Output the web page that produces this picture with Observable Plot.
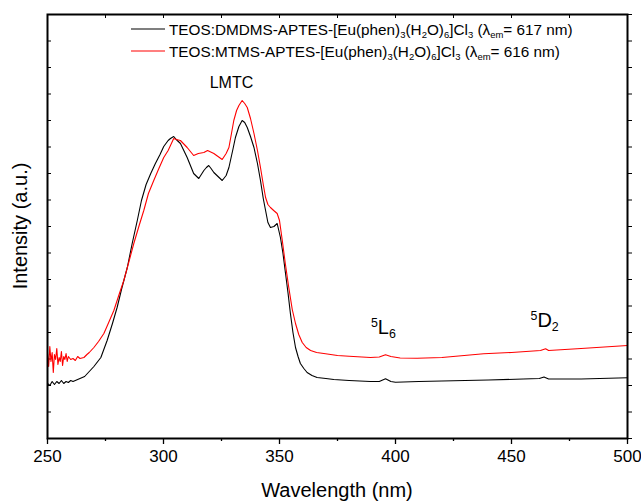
<!DOCTYPE html>
<html>
<head>
<meta charset="utf-8">
<script src="https://cdn.jsdelivr.net/npm/d3@7"></script>
<script src="https://cdn.jsdelivr.net/npm/@observablehq/plot@0.6"></script>
<style>
  html, body { margin: 0; padding: 0; background: #fff; }
  #chart { width: 641px; height: 501px; }
</style>
</head>
<body>
<div id="chart"></div>
<script>
// ---- data ----
const xTickValues = [250, 300, 350, 400, 450, 500];
const xMinorTicks = [275, 325, 375, 425, 475];
const xLabel = "Wavelength (nm)";
const yLabel = "Intensity (a.u.)";

const wlBlack = [250, 251, 252, 253, 254, 255, 256, 257, 258, 259, 260, 261, 262, 263, 264, 266, 268, 270, 273, 275.7, 278, 280, 282, 284.4, 286.5, 288.7, 290.5, 292.5, 294.5, 296.5, 298.5, 300.1, 302, 303, 304.4, 305.5, 307.3, 310.2, 313, 315.2, 317.4, 318.5, 319.5, 320.5, 321.7, 323.5, 325.3, 327, 328.2, 330, 331, 332.5, 333.9, 335, 336.1, 337.5, 339, 340.5, 341.8, 343, 344, 345, 346.1, 347.6, 349, 350.4, 351.5, 352.6, 353.7, 354.7, 355.8, 356.9, 358, 359, 360.5, 361.9, 364, 366.2, 370, 373.4, 380, 389.2, 393, 395.7, 398, 400, 410, 420, 440, 455, 462, 464, 466, 480, 500];
const intBlack = [55, 53, 57, 54, 57, 55, 58, 55, 57, 56, 58, 57, 58, 59, 60, 62, 67, 72, 81, 98, 115, 131, 150, 171, 195, 218, 238, 254, 265, 275, 284, 292, 298, 300, 302, 299, 295, 281, 265, 260, 268, 271, 273, 270, 266, 262, 258, 263, 271, 290, 301, 312, 318, 316, 311, 302, 291, 275, 258, 240, 228, 216, 211, 212, 215, 201, 185, 165, 145, 125, 106, 91, 82, 75, 70, 66, 63, 61, 60, 59, 58, 57, 57, 59.7, 57, 56.3, 57, 57.5, 58.5, 59.5, 60, 61.5, 59.5, 59.5, 60.7];

const wlRed = [250, 250.5, 251, 251.5, 252, 252.5, 253, 253.5, 254, 254.5, 255, 255.5, 256, 256.5, 257, 257.5, 258, 258.5, 259, 260, 261, 262, 263, 264, 265.7, 267, 268, 270, 272, 274.3, 276, 278.6, 281, 282.9, 285, 287.2, 289.5, 291.5, 293.5, 295.8, 298, 300.1, 302, 303, 304.4, 305.5, 307.3, 310.2, 313, 315, 317.4, 319, 321.7, 323.5, 325.3, 327, 328.2, 329.3, 330.3, 331.5, 332.5, 333.9, 335, 336.1, 337.5, 339, 340.5, 341.8, 343, 344, 345, 346.1, 347.5, 349, 350, 351.2, 352.5, 354, 355.5, 356.9, 358.3, 359.8, 361.5, 363.4, 366, 369.1, 375, 380, 389.2, 393, 395.7, 398, 402, 409.3, 420, 438, 450, 462.5, 464.7, 466, 480, 500];
const intRed = [85, 72, 92, 77, 86, 66, 84, 79, 90, 74, 81, 77, 87, 73, 82, 79, 85, 77, 82, 79, 80, 78, 82, 80, 81, 84, 86, 91, 97, 105, 114, 128, 145, 158, 176, 195, 213, 228, 245, 258, 270, 281, 288, 293, 300, 299, 298, 291, 283, 285, 286, 288, 285, 282, 279, 285, 291, 305, 318, 328, 333, 338, 335, 331, 320, 305, 288, 271, 254, 241, 234, 231, 228, 225, 218, 198, 175, 151, 129, 115, 104, 96, 91, 88, 86, 85, 83, 82.3, 81, 81.5, 83.7, 82, 80.5, 80.3, 81, 84.7, 86, 88, 89.7, 88, 90, 93];

const seriesNames = [
  [["TEOS:DMDMS-APTES-[Eu(phen)"], ["3", "sub"], ["(H"], ["2", "sub"], ["O)"], ["6", "sub"], ["]Cl"], ["3", "sub"], [" (λ"], ["em", "sub"], ["= 617 nm)"]],
  [["TEOS:MTMS-APTES-[Eu(phen)"], ["3", "sub"], ["(H"], ["2", "sub"], ["O)"], ["6", "sub"], ["]Cl"], ["3", "sub"], [" (λ"], ["em", "sub"], ["= 616 nm)"]]
];
const seriesColors = ["#000000", "#ff0000"];

const annotations = [
  {x: 329.5, y: 350, parts: [["LMTC"]], size: 16},
  {x: 395, y: 104, parts: [["5", "sup"], ["L"], ["6", "sub"]], size: 20},
  {x: 464.5, y: 111, parts: [["5", "sup"], ["D"], ["2", "sub"]], size: 20}
];

const yTicks = d3.range(0, 425, 26.5);

const black = wlBlack.map((w, i) => ({w, v: intBlack[i]}));
const red = wlRed.map((w, i) => ({w, v: intRed[i]}));

const font = "Liberation Sans, Arial, Helvetica, sans-serif";

const plot = Plot.plot({
  width: 641,
  height: 501,
  marginLeft: 47,
  marginRight: 14,
  marginTop: 14,
  marginBottom: 63,
  style: {fontFamily: font, background: "#fff", color: "#000"},
  x: {domain: [250, 500]},
  y: {domain: [0, 424]},
  marks: [
    Plot.axisX({ticks: xTickValues, tickSize: 6, tickPadding: 5, fontSize: 17, label: null, strokeWidth: 1.3}),
    Plot.axisX({ticks: xMinorTicks, tickSize: 3, tickFormat: () => "", label: null, strokeWidth: 1.3}),
    Plot.axisX({anchor: "top", ticks: d3.range(250, 501, 25), tickSize: -3, tickFormat: () => "", label: null}),
    Plot.axisY({anchor: "left", ticks: yTicks, tickSize: -4, tickFormat: () => "", label: null}),
    Plot.axisY({anchor: "right", ticks: yTicks, tickSize: 4, tickFormat: () => "", label: null}),
    Plot.line(black, {x: "w", y: "v", stroke: seriesColors[0], strokeWidth: 1.1}),
    Plot.line(red, {x: "w", y: "v", stroke: seriesColors[1], strokeWidth: 1.1}),
    Plot.frame({stroke: "#000", strokeWidth: 2})
  ]
});

document.getElementById("chart").appendChild(plot);

const sx = plot.scale("x").apply;
const sy = plot.scale("y").apply;
const svg = d3.select(plot);

function rich(textSel, parts, size) {
  parts.forEach(([s, kind]) => {
    const t = textSel.append("tspan").text(s);
    if (kind === "sub") t.attr("font-size", size * 0.62).attr("baseline-shift", "-30%");
    else if (kind === "sup") t.attr("font-size", size * 0.62).attr("baseline-shift", "55%");
  });
}

// legend
const lg = svg.append("g").attr("font-family", font).attr("text-anchor", "start");
seriesNames.forEach((parts, i) => {
  const yy = 29 + i * 22;
  lg.append("line").attr("x1", 131).attr("x2", 165).attr("y1", yy).attr("y2", yy)
    .attr("stroke", seriesColors[i]).attr("stroke-width", 1.2);
  const t = lg.append("text").attr("x", 169).attr("y", yy + 5.5).attr("font-size", 15.3)
    .attr("text-anchor", "start").attr("fill", "#000");
  rich(t, parts, 15.3);
});

// annotations
annotations.forEach(a => {
  const t = svg.append("text").attr("font-family", font).attr("font-size", a.size)
    .attr("x", sx(a.x)).attr("y", sy(a.y)).attr("text-anchor", "middle").attr("fill", "#000");
  rich(t, a.parts, a.size);
});

// axis titles
svg.append("text").attr("font-family", font).attr("font-size", 20).attr("text-anchor", "middle")
  .attr("x", (sx(250) + sx(500)) / 2).attr("y", 497).text(xLabel);
svg.append("text").attr("font-family", font).attr("font-size", 20).attr("text-anchor", "middle")
  .attr("transform", `translate(27,${(sy(0) + sy(424)) / 2}) rotate(-90)`).text(yLabel);
</script>
</body>
</html>
